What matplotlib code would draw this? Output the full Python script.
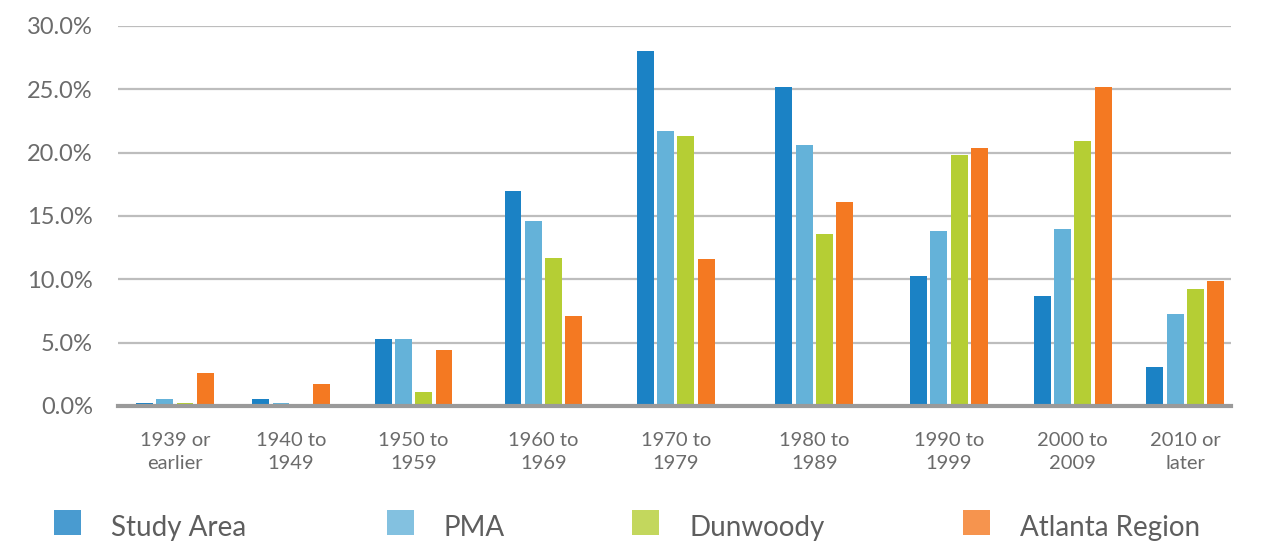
import numpy as np
import matplotlib
matplotlib.use('Agg')
import matplotlib.pyplot as plt
from matplotlib.patches import Rectangle
from matplotlib.ticker import FuncFormatter

plt.rcParams['font.family'] = ['Lato', 'DejaVu Sans']

categories = ['1939 or\nearlier', '1940 to\n1949', '1950 to\n1959', '1960 to\n1969',
              '1970 to\n1979', '1980 to\n1989', '1990 to\n1999', '2000 to\n2009',
              '2010 or\nlater']
series = ['Study Area', 'PMA', 'Dunwoody', 'Atlanta Region']

study_area = [0.25, 0.55, 5.3, 17.0, 28.0, 25.2, 10.3, 8.7, 3.1]
pma = [0.55, 0.25, 5.3, 14.6, 21.7, 20.6, 13.8, 14.0, 7.3]
dunwoody = [0.25, 0.1, 1.1, 11.7, 21.3, 13.6, 19.8, 20.9, 9.2]
atlanta = [2.6, 1.7, 4.4, 7.1, 11.6, 16.1, 20.4, 25.2, 9.9]

colors = ['#1b82c5', '#64b2d9', '#b5ce34', '#f47922']

# group centres along the axis (axis spans 0..9)
group_pos = [0.46, 1.40, 2.39, 3.44, 4.51, 5.63, 6.72, 7.72, 8.63]

fig = plt.figure(figsize=(12.74, 5.41), dpi=100)
ax = fig.add_axes([118 / 1274, 135 / 541, 1113 / 1274, 380 / 541])

x = np.array(group_pos)
width = 0.137
pitch = 0.164
for i, (name, vals) in enumerate(zip(series, [study_area, pma, dunwoody, atlanta])):
    ax.bar(x + (i - 1.5) * pitch, vals, width, color=colors[i], label=name, zorder=3)

ax.set_xlim(0, 9)
ax.set_ylim(0, 30)
ax.set_yticks(np.arange(0, 31, 5))
ax.yaxis.set_major_formatter(FuncFormatter(lambda v, p: f'{v:.1f}%'))
ax.set_xticks(x)
ax.set_xticklabels(categories, linespacing=1.4)

ax.grid(axis='y', color='#bdbdbd', linewidth=1.6, zorder=0)
for s in ['top', 'right', 'left']:
    ax.spines[s].set_visible(False)
ax.spines['bottom'].set_color('#9a9a9a')
ax.spines['bottom'].set_linewidth(3)
ax.spines['bottom'].set_zorder(4)

ax.tick_params(axis='both', length=0)
ax.tick_params(axis='y', pad=18, labelsize=17, labelcolor='#6b6b6b')
ax.tick_params(axis='x', pad=19, labelsize=14.5, labelcolor='#6b6b6b')

# legend row along the bottom
swatch_x = [54, 387, 632, 963]
for sx, name, c in zip(swatch_x, series, colors):
    fig.add_artist(Rectangle((sx / 1274, 6 / 541), 27 / 1274, 25 / 541,
                             transform=fig.transFigure, color=c, alpha=0.8, lw=0))
    fig.text((sx + 57) / 1274, 13 / 541, name, fontsize=20, color='#5e5e5e',
             va='center', ha='left')

fig.savefig('out.png', dpi=100)
